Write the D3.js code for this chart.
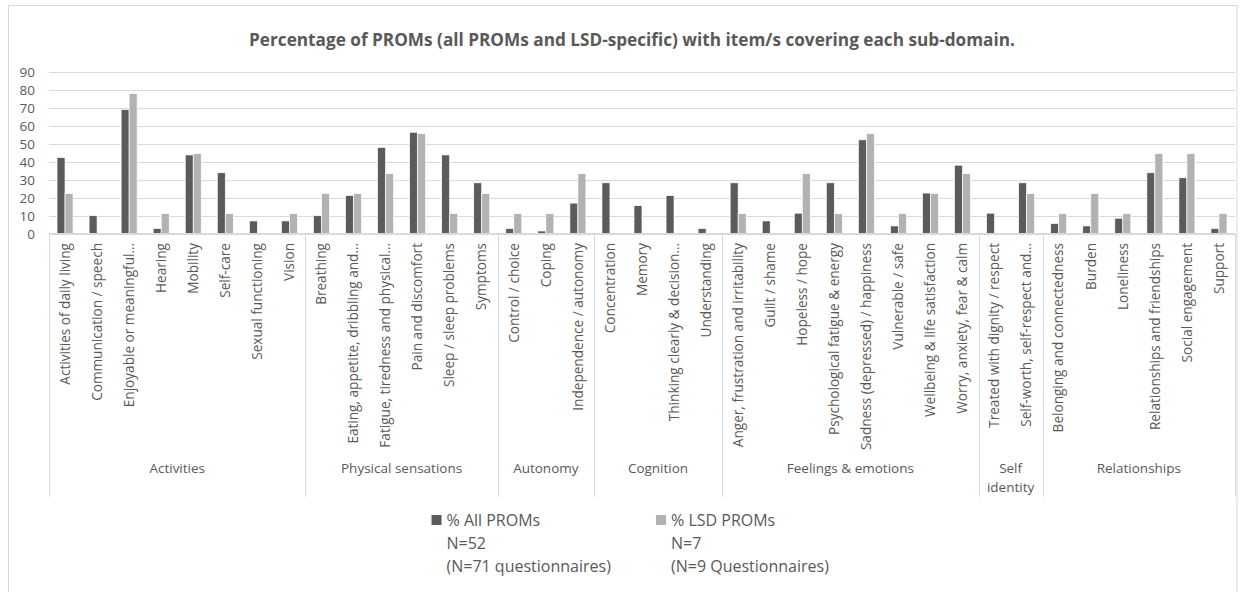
<!DOCTYPE html>
<html><head><meta charset="utf-8">
<script src="https://cdn.jsdelivr.net/npm/d3@7"></script>
<style>
html,body{margin:0;padding:0;background:#fff;}
svg{display:block;font-family:"Open Sans",sans-serif;}
</style></head>
<body>
<svg id="chart" width="1242" height="592"></svg>
<script>
const title = "Percentage of PROMs (all PROMs and LSD-specific) with item/s covering each sub-domain.";
const groups = ["Activities","Physical sensations","Autonomy","Cognition","Feelings & emotions","Self identity","Relationships"];
const groupLabelLines = [["Activities"],["Physical sensations"],["Autonomy"],["Cognition"],["Feelings & emotions"],["Self","identity"],["Relationships"]];
const categories = [
 "Activities of daily living","Communication / speech","Enjoyable or meaningful…","Hearing","Mobility","Self-care","Sexual functioning","Vision",
 "Breathing","Eating, appetite, dribbling and…","Fatigue, tiredness and physical…","Pain and discomfort","Sleep / sleep problems","Symptoms",
 "Control / choice","Coping","Independence / autonomy",
 "Concentration","Memory","Thinking clearly & decision…","Understanding",
 "Anger, frustration and irritability","Guilt / shame","Hopeless / hope","Psychological fatigue & energy","Sadness (depressed) / happiness","Vulnerable / safe","Wellbeing & life satisfaction","Worry, anxiety, fear & calm",
 "Treated with dignity / respect","Self-worth, self-respect and…",
 "Belonging and connectedness","Burden","Loneliness","Relationships and friendships","Social engagement","Support"
];
const categoryGroup = [0,0,0,0,0,0,0,0, 1,1,1,1,1,1, 2,2,2, 3,3,3,3, 4,4,4,4,4,4,4,4, 5,5, 6,6,6,6,6,6];
const allProms = [42.3,9.9,69.0,2.8,43.7,33.8,7.0,7.0, 9.9,21.1,47.9,56.3,43.7,28.2, 2.8,1.4,16.9, 28.2,15.5,21.1,2.8, 28.2,7.0,11.3,28.2,52.1,4.2,22.5,38.0, 11.3,28.2, 5.6,4.2,8.5,33.8,31.0,2.8];
const lsdProms = [22.2,0,77.8,11.1,44.4,11.1,0,11.1, 22.2,22.2,33.3,55.6,11.1,22.2, 11.1,11.1,33.3, 0,0,0,0, 11.1,0,33.3,11.1,55.6,11.1,22.2,33.3, 0,22.2, 11.1,22.2,11.1,44.4,44.4,11.1];
const seriesNames = ["% All PROMs","% LSD PROMs"];
const seriesSub = [["N=52","(N=71 questionnaires)"],["N=7","(N=9 Questionnaires)"]];
const yTicks = [0,10,20,30,40,50,60,70,80,90];

const colors = ["#5b5b5b","#b2b2b2"];
const textColor = "#595959";
const gridColor = "#d9d9d9";

const svg = d3.select("#chart");
const plotLeft = 49, plotRight = 1235, plotTop = 71.7, plotBottom = 233.5;

// outer border
svg.append("rect").attr("x",8.5).attr("y",5.5).attr("width",1228.5).attr("height",600)
  .attr("fill","none").attr("stroke",gridColor).attr("stroke-width",1);

svg.append("text").attr("x",632).attr("y",46).attr("text-anchor","middle")
  .attr("font-size",17.2).attr("font-weight","bold").attr("fill",textColor).text(title);

const y = d3.scaleLinear().domain([0,90]).range([plotBottom, plotTop]);
const x = d3.scaleBand().domain(categories).range([plotLeft,plotRight]).paddingInner(0).paddingOuter(0);
const bw = x.bandwidth();
const xs = d3.scaleBand().domain([0,1]).range([bw*0.25, bw*0.75]).padding(0);

// grid
svg.append("g").selectAll("line").data(yTicks).join("line")
  .attr("x1",plotLeft).attr("x2",plotRight).attr("y1",d=>Math.round(y(d))+0.5).attr("y2",d=>Math.round(y(d))+0.5)
  .attr("stroke",gridColor).attr("stroke-width",1.2);

// y axis labels
const yAxis = d3.axisLeft(y).tickValues(yTicks).tickSize(0).tickPadding(0);
const yg = svg.append("g").attr("transform",`translate(35,0)`).call(yAxis);
yg.select(".domain").remove();
yg.selectAll("text").attr("font-size",13.5).attr("fill",textColor).attr("font-family","'Open Sans',sans-serif").attr("dy","0.35em");

// bars
const series = [allProms, lsdProms];
series.forEach((vals, si) => {
  svg.append("g").selectAll("rect").data(vals.map((v,i)=>({v, c:categories[i]})).filter(d=>d.v>0)).join("rect")
    .attr("x", d => x(d.c) + xs(si))
    .attr("width", xs.bandwidth())
    .attr("y", d => y(d.v))
    .attr("height", d => plotBottom - y(d.v))
    .attr("fill", colors[si])
    .attr("stroke","#fff").attr("stroke-width",0.7);
});

// category labels
svg.append("g").selectAll("text").data(categories).join("text")
  .attr("transform", d => `translate(${x(d)+bw/2},243) rotate(-90)`)
  .attr("text-anchor","end").attr("dy","0.35em")
  .attr("font-size",13.6).attr("fill",textColor).text(d=>d);

// group separators
const groupStart = groups.map((g,gi)=>categoryGroup.indexOf(gi));
const groupEnd = groups.map((g,gi)=>categoryGroup.lastIndexOf(gi));
const boundaries = groupStart.map(i=>x(categories[i])).concat([plotRight]);
svg.append("g").selectAll("line").data(boundaries).join("line")
  .attr("x1",d=>Math.round(d)+0.5).attr("x2",d=>Math.round(d)+0.5).attr("y1",plotBottom).attr("y2",497)
  .attr("stroke",gridColor).attr("stroke-width",1);

// group labels
groups.forEach((g,gi)=>{
  const cx = (x(categories[groupStart[gi]]) + x(categories[groupEnd[gi]]) + bw)/2;
  const t = svg.append("text").attr("x",cx).attr("y",473).attr("text-anchor","middle")
    .attr("font-size",13.5).attr("fill",textColor);
  groupLabelLines[gi].forEach((ln,li)=>{
    t.append("tspan").attr("x",cx).attr("dy", li===0?0:19).text(ln);
  });
});

// axis line
svg.append("line").attr("x1",plotLeft).attr("x2",plotRight).attr("y1",plotBottom).attr("y2",plotBottom)
  .attr("stroke",gridColor).attr("stroke-width",1.2);

// legend
const legX = [431.5, 656];
seriesNames.forEach((n,si)=>{
  const g = svg.append("g").attr("transform",`translate(${legX[si]},0)`);
  g.append("rect").attr("x",0).attr("y",515).attr("width",10).attr("height",10).attr("fill",colors[si]);
  const t = g.append("text").attr("x",15).attr("y",526).attr("font-size",16).attr("fill",textColor);
  t.append("tspan").attr("x",15).text(n);
  seriesSub[si].forEach(s=>t.append("tspan").attr("x",15).attr("dy",23).text(s));
});
</script>
</body></html>
